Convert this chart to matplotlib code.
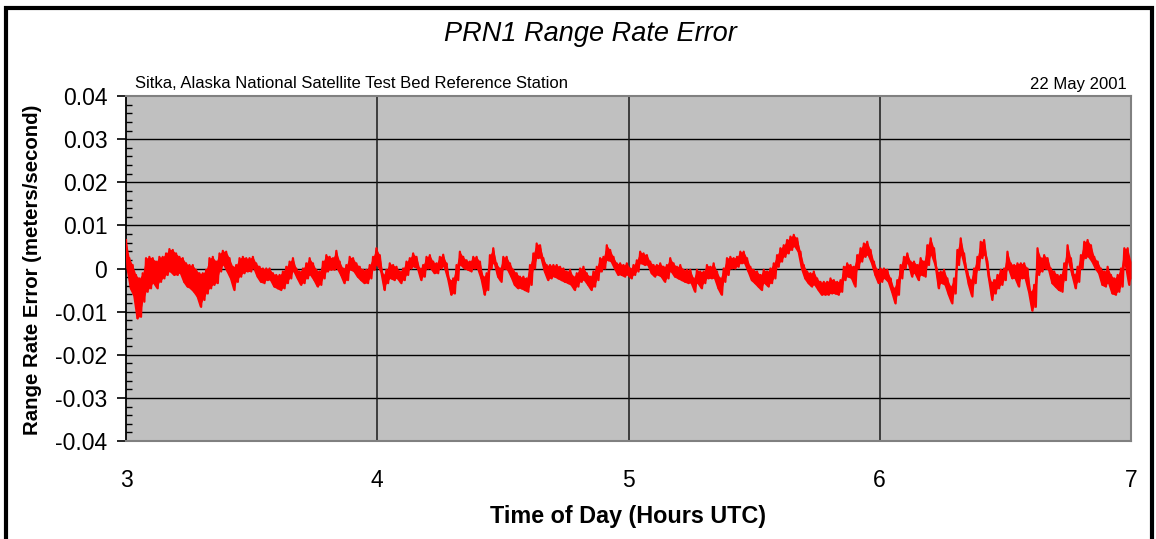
import numpy as np
import matplotlib.pyplot as plt
from matplotlib.ticker import MultipleLocator
from matplotlib.patches import Rectangle

plt.rcParams['font.family'] = ['Liberation Sans', 'DejaVu Sans']

# upper / lower edge of the noisy range-rate trace, mm/s, evenly spaced from 3h to 7h UTC
band_top_mms = [
    6.6, 2.4, 0.8, -1.5, -2.3, -1.1, 2.4, 2.7, 2.4, 1.6, 2.7, 2.7, 3.5, 4.5, 4.3,
    3.5, 2.7, 2.4, 1.2, 0.8, 0.8, -0.3, -1.1, -1.1, -0.3, 2.4, 2.7, 1.6, 3.5, 4.1,
    3.9, 2.4, 0.4, 0.8, 2.4, 2.7, 2.4, 2.4, 2.7, 1.2, 0.4, 0.0, 0.0, 0.0, -1.1,
    -1.5, -1.5, -0.7, 0.4, 1.6, 2.4, 0.0, -0.7, 0.0, 1.2, 2.4, 1.2, -0.3, -0.7, 1.6,
    3.1, 2.7, 2.4, 4.1, 1.6, 0.0, 0.8, 2.7, 2.4, 1.2, 0.4, -0.3, -0.3, 0.8, 2.7,
    4.7, 3.1, -1.5, -0.3, 1.2, 0.8, 0.4, -0.7, 0.0, 1.6, 2.4, 3.5, 2.7, 0.0, 0.8,
    2.7, 3.1, 1.6, 1.2, 2.7, 3.2, 1.2, -2.7, -2.3, 0.8, 3.9, 2.7, 1.9, 1.6, 2.7,
    2.7, 1.6, -1.9, -1.1, 3.1, 4.7, 1.2, 0.0, 2.7, 2.7, 1.2, -0.3, -1.1, -1.9, -1.9,
    -2.3, 0.8, 3.5, 5.8, 5.4, 2.4, 0.8, 0.8, 0.8, 0.8, 0.4, 0.0, -0.7, -0.3, -1.9,
    -1.1, 0.0, 0.4, -1.1, -1.9, -0.7, 0.4, 2.4, 2.7, 5.4, 4.3, 2.7, 1.2, 1.2, 0.8,
    1.2, 0.0, 0.8, 1.9, 3.9, 3.5, 3.1, 1.6, 0.8, 0.8, 1.2, 0.4, 0.8, 2.4, 1.2,
    0.4, 0.8, -0.3, -0.3, -0.3, -2.3, -0.3, -0.7, -0.7, 0.8, 0.4, 1.2, -0.7, -2.3, 0.0,
    2.4, 2.7, 2.4, 2.7, 3.9, 3.9, 2.4, 0.4, -0.3, -0.7, -1.5, -0.3, -0.7, 0.0, 1.2,
    3.1, 4.7, 5.4, 6.6, 7.4, 7.8, 7.0, 3.9, 0.8, -0.7, -1.1, -0.7, -2.3, -3.1, -3.1,
    -3.1, -2.3, -2.7, -3.1, -2.7, 0.4, 1.2, 0.8, 0.4, 3.1, 4.7, 5.8, 6.2, 4.3, 1.6,
    -0.3, 0.0, 0.0, -0.3, -2.3, -4.6, -2.7, 0.8, 2.7, 3.5, 1.6, 1.6, 0.8, 2.4, 1.6,
    5.4, 7.0, 4.7, -0.7, -0.7, -0.3, -2.3, -4.2, -2.3, 4.3, 7.0, 3.5, -0.7, -2.7, 0.0,
    2.7, 6.2, 6.6, 1.6, -3.1, -2.7, -1.5, -0.3, 0.0, 3.9, 1.2, 0.8, 1.2, 1.2, 1.2,
    0.0, -5.4, -3.8, 4.7, 2.4, 3.1, 2.4, 0.0, -0.7, -1.5, -1.5, 1.2, 5.4, 2.4, -1.5,
    0.4, 3.1, 6.2, 6.6, 5.4, 2.7, 1.6, 0.0, -0.7, 0.4, -1.5, -2.3, -1.5, 0.0, 4.7,
    4.7, 1.6,
]
band_bot_mms = [
    0.0, -4.6, -6.2, -11.6, -11.2, -7.7, -5.4, -4.6, -3.4, -4.6, -3.1, -2.3, -1.5, -0.7, -1.5,
    -1.5, -1.1, -3.1, -4.2, -4.6, -5.4, -6.5, -8.9, -7.3, -5.8, -4.6, -3.8, -3.4, -0.7, 0.8,
    -0.7, -2.3, -5.0, -3.1, -1.9, -1.1, -0.7, -0.7, 0.0, -1.9, -3.1, -3.4, -2.7, -2.7, -4.2,
    -4.6, -5.0, -4.6, -3.4, -2.3, -0.7, -2.3, -3.8, -3.4, -2.3, -1.5, -2.7, -4.2, -3.8, -2.3,
    -0.7, -0.3, -0.3, 0.0, -1.5, -3.4, -2.7, -0.3, -0.7, -1.9, -2.7, -3.4, -3.4, -2.3, -0.3,
    0.8, -0.7, -5.0, -3.4, -2.3, -2.7, -2.3, -3.4, -2.7, -1.5, 0.0, 0.4, 0.0, -2.7, -1.9,
    0.0, 0.0, -1.1, -1.1, 0.0, 0.4, -2.3, -6.1, -5.8, -2.7, 0.8, 0.0, -0.3, -0.7, 0.0,
    0.0, -2.3, -6.1, -5.0, 0.0, 1.2, -1.9, -3.1, 0.0, -0.3, -1.9, -3.8, -4.6, -4.6, -5.0,
    -5.4, -3.8, 0.0, 2.4, 2.4, -0.7, -2.7, -2.3, -1.9, -2.3, -2.7, -3.1, -3.4, -3.8, -5.0,
    -4.2, -3.1, -2.7, -3.8, -5.0, -4.2, -2.7, -0.7, 0.0, 1.9, 1.6, 0.0, -1.5, -1.5, -1.9,
    -1.5, -2.3, -1.5, -0.7, 1.2, 0.8, 0.8, -1.1, -1.9, -1.5, -1.9, -3.1, -2.3, -0.7, -1.9,
    -2.3, -2.7, -3.1, -3.4, -3.4, -5.4, -3.4, -4.6, -3.4, -2.3, -2.3, -2.3, -4.6, -6.1, -3.1,
    -1.5, 0.0, 0.0, 0.4, 1.2, 1.2, -0.7, -2.7, -3.4, -4.2, -5.0, -3.4, -4.2, -3.4, -2.3,
    0.4, 1.6, 2.7, 3.5, 4.3, 5.1, 3.9, 0.0, -2.3, -3.4, -4.2, -3.8, -5.0, -6.1, -6.1,
    -6.1, -5.8, -5.8, -6.1, -5.4, -2.7, -1.9, -2.3, -4.2, 0.0, 1.6, 2.7, 3.1, 1.2, -1.5,
    -3.4, -3.1, -2.3, -3.1, -5.4, -8.1, -6.1, -2.3, 0.0, 1.2, -1.9, -1.1, -2.7, -1.5, -1.9,
    0.8, 3.1, 0.8, -4.6, -3.4, -3.8, -6.1, -8.1, -5.8, 0.8, 3.1, 0.0, -3.8, -6.5, -3.4,
    -0.3, 2.4, 3.1, -2.3, -7.3, -5.8, -4.6, -3.8, -2.7, 0.0, -2.3, -2.3, -4.2, -2.3, -2.3,
    -5.4, -9.8, -8.9, -1.5, -0.7, 0.0, -0.3, -3.4, -4.2, -5.0, -5.4, -2.7, 1.6, -1.5, -4.6,
    -3.1, 0.0, 2.4, 2.7, 1.6, 0.0, -1.1, -3.8, -4.2, -3.4, -5.8, -6.1, -5.4, -4.2, 0.8,
    -3.8, -2.3,
]

hour_ticks = [3, 4, 5, 6, 7]
rate_ticks = [-0.04, -0.03, -0.02, -0.01, 0.0, 0.01, 0.02, 0.03, 0.04]
rate_labels = ['-0.04', '-0.03', '-0.02', '-0.01', '0', '0.01', '0.02', '0.03', '0.04']

top = np.array(band_top_mms) / 1000.0
bot = np.array(band_bot_mms) / 1000.0
hours = np.linspace(3.0, 7.0, len(top))
step = hours[1] - hours[0]
# trace swings between the top and bottom of its band inside every sample
t = np.column_stack([hours, hours + step / 2]).ravel()
v = np.column_stack([top, bot]).ravel()

W, H = 1156, 539
fig = plt.figure(figsize=(W / 100, H / 100), dpi=100)
fig.patch.set_facecolor('white')

ax = fig.add_axes([126 / W, 1 - 441 / H, (1131 - 126) / W, (441 - 96) / H])
ax.set_facecolor('#C0C0C0')

for y in rate_ticks[1:-1]:
    ax.axhline(y, color='black', lw=1.0, zorder=1)
for x in hour_ticks[1:-1]:
    ax.axvline(x, color='#1a1a1a', lw=1.1, zorder=1)

ax.fill_between(hours, bot, top, color='#FF0000', lw=0, zorder=3)
ax.plot(t, v, color='#FF0000', lw=1.6, zorder=3)

ax.set_xlim(3, 7)
ax.set_ylim(-0.04, 0.04)
ax.set_xticks(hour_ticks)
ax.set_xticklabels([str(h) for h in hour_ticks])
ax.set_yticks(rate_ticks)
ax.set_yticklabels(rate_labels)
ax.yaxis.set_minor_locator(MultipleLocator(0.002))
ax.tick_params(axis='x', length=0, pad=20, labelsize=16.5)
ax.tick_params(axis='y', which='major', direction='out', length=6.5, width=1.2,
               pad=7, labelsize=16.5)
ax.tick_params(axis='y', which='minor', direction='in', length=4, width=1.0)

for side in ('top', 'right', 'bottom'):
    ax.spines[side].set_color('#808080')
    ax.spines[side].set_linewidth(1.5)
ax.spines['left'].set_color('black')
ax.spines['left'].set_linewidth(1.3)

fig.text(590 / W, 1 - 34 / H, 'PRN1 Range Rate Error', ha='center', va='center',
         fontsize=19.5, style='italic')
fig.text(135 / W, 1 - 84 / H, 'Sitka, Alaska National Satellite Test Bed Reference Station',
         ha='left', va='center', fontsize=12)
fig.text(1127 / W, 1 - 84 / H, '22 May 2001', ha='right', va='center', fontsize=12)
fig.text(628 / W, 1 - 516 / H, 'Time of Day (Hours UTC)', ha='center', va='center',
         fontsize=16.8, fontweight='bold')
fig.text(33 / W, 1 - 270 / H, 'Range Rate Error (meters/second)', ha='center', va='center',
         rotation=90, fontsize=14.7, fontweight='bold')

# outer frame, open at the bottom edge
fig.add_artist(Rectangle((5.5 / W, -0.05), (1152 - 5.5) / W, 1.05 - 7.5 / H,
                         transform=fig.transFigure, fill=False, edgecolor='black',
                         lw=3, clip_on=False))

fig.savefig('out.png', dpi=100)
